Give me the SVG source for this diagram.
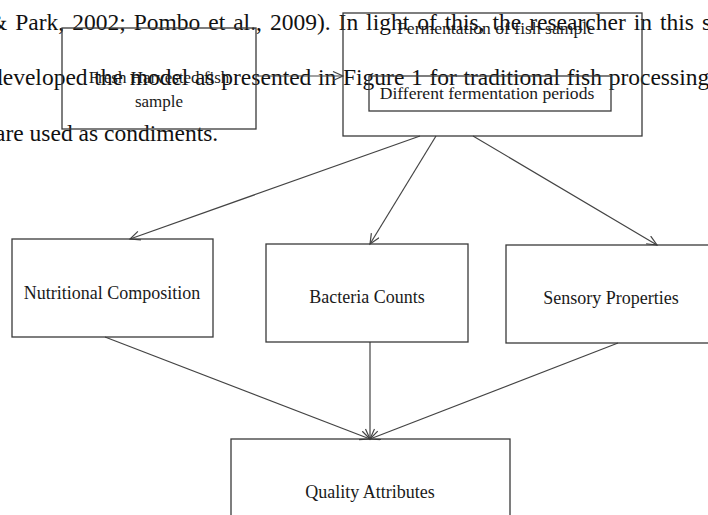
<svg xmlns="http://www.w3.org/2000/svg" width="708" height="515" viewBox="0 0 708 515">
<style>
.bg{font-family:"Liberation Serif","Times New Roman",serif;font-size:23.5px;fill:#111}
.lbl{font-family:"Liberation Serif","Times New Roman",serif;font-size:18px;fill:#1a1a1a;text-anchor:middle}
.md{font-size:17.6px}
.sm{font-size:17px}
.box{fill:none;stroke:#3a3a3a;stroke-width:1.3}
.edge{fill:none;stroke:#444;stroke-width:1.2;marker-end:url(#ah)}
</style>
<defs>
<marker id="ah" markerUnits="userSpaceOnUse" markerWidth="14" markerHeight="14" refX="11" refY="5" orient="auto">
<path d="M1,0.5 L11,5 L1,9.5" fill="none" stroke="#444" stroke-width="1.2"/>
</marker>
</defs>
<rect width="708" height="515" fill="#fff"/>
<g id="background-text">
<text class="bg" x="-11" y="30" word-spacing="2.1">&amp; Park, 2002; Pombo et al., 2009). In light of this, the researcher in this s</text>
<text class="bg" x="-9" y="85" word-spacing="0.8">developed the model as presented in Figure 1 for traditional fish processing</text>
<text class="bg" x="-5" y="141">are used as condiments.</text>
</g>
<g id="connectors">
<line class="edge" x1="256" y1="76" x2="343" y2="76"/>
<line class="edge" x1="420" y1="136" x2="130" y2="239"/>
<line class="edge" x1="436" y1="136" x2="370" y2="244"/>
<line class="edge" x1="473" y1="136" x2="657" y2="245"/>
<line class="edge" x1="105" y1="337" x2="370" y2="439"/>
<line class="edge" x1="370" y1="342" x2="370" y2="439"/>
<line class="edge" x1="618" y1="343" x2="370" y2="439"/>
</g>
<g id="fresh-sample">
<rect class="box" x="62" y="28" width="194" height="101"/>
<text class="lbl sm" x="159" y="83">Fresh Harvested fish</text>
<text class="lbl sm" x="159" y="107">sample</text>
</g>
<g id="fermentation">
<rect class="box" x="343" y="13" width="299" height="123"/>
<text class="lbl md" x="496" y="34">Fermentation of fish sample</text>
<g id="periods">
<rect class="box" x="369" y="76" width="242" height="35"/>
<text class="lbl md" x="487" y="99">Different fermentation periods</text>
</g>
</g>
<g id="nutritional">
<rect class="box" x="12" y="239" width="201" height="98"/>
<text class="lbl" x="112" y="299">Nutritional Composition</text>
</g>
<g id="bacteria">
<rect class="box" x="266" y="244" width="202" height="98"/>
<text class="lbl" x="367" y="303">Bacteria Counts</text>
</g>
<g id="sensory">
<rect class="box" x="506" y="245" width="210" height="98"/>
<text class="lbl" x="611" y="304">Sensory Properties</text>
</g>
<g id="quality">
<rect class="box" x="231" y="439" width="279" height="90"/>
<text class="lbl" x="370" y="498">Quality Attributes</text>
</g>
</svg>
